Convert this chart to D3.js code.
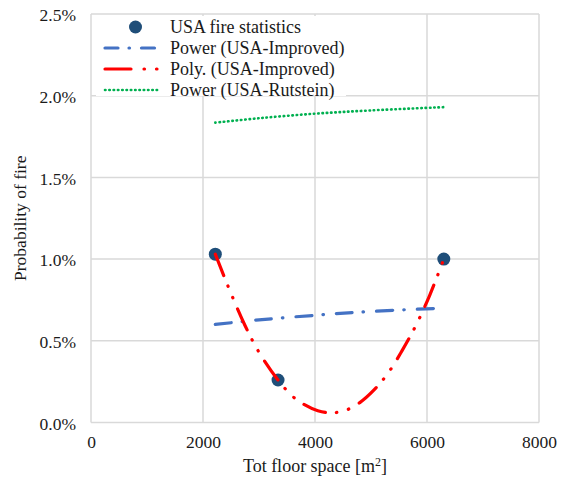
<!DOCTYPE html>
<html>
<head>
<meta charset="utf-8">
<script src="https://cdn.jsdelivr.net/npm/d3@7"></script>
<style>
  html, body { margin: 0; padding: 0; background: #fff; }
  svg { display: block; }
  text { font-family: "Liberation Serif", "Times New Roman", serif; fill: #1a1a1a; }
</style>
</head>
<body>
<svg id="chart" width="565" height="479"></svg>
<script>
// Observed fire statistics (floor space m², probability %)
const statFloor = [2220, 3340, 6300];
const statProb  = [1.03, 0.26, 1.00];

// Power trend, improved USA model
const powImpFloor = [2220, 3000, 4000, 5000, 6300];
const powImpProb  = [0.60, 0.628, 0.656, 0.680, 0.700];

// Second-order polynomial trend, improved USA model
const polyFloor = [2220, 2500, 2750, 3000, 3340, 3600, 3800, 4050, 4300, 4550, 4800, 5050, 5300, 5550, 5800, 6050, 6300];
const polyProb  = [1.03, 0.79, 0.594, 0.43, 0.26, 0.16, 0.111, 0.072, 0.059, 0.075, 0.122, 0.198, 0.30, 0.437, 0.593, 0.78, 1.00];

// Power trend, Rutstein model
const powRutFloor = [2220, 3000, 4000, 5000, 6300];
const powRutProb  = [1.835, 1.862, 1.89, 1.91, 1.93];

const xTicks = [0, 2000, 4000, 6000, 8000];
const yTicks = [0, 0.5, 1.0, 1.5, 2.0, 2.5];

const legendLabels = ["USA fire statistics", "Power (USA-Improved)", "Poly. (USA-Improved)", "Power (USA-Rutstein)"];

const margin = { left: 91, right: 26, top: 14, bottom: 56.5 };
const W = 565, H = 479;
const svg = d3.select("#chart");

const x = d3.scaleLinear().domain([0, 8000]).range([margin.left, W - margin.right]);
const y = d3.scaleLinear().domain([0, 2.5]).range([H - margin.bottom, margin.top]);

const gridColor = "#d9d9d9";

// grid lines (including the frame at the outer ticks)
svg.append("g").selectAll("line.v").data(xTicks).join("line")
  .attr("x1", d => x(d)).attr("x2", d => x(d))
  .attr("y1", y(2.5)).attr("y2", y(0))
  .attr("stroke", gridColor).attr("stroke-width", 1.5);
svg.append("g").selectAll("line.h").data(yTicks).join("line")
  .attr("x1", x(0)).attr("x2", x(8000))
  .attr("y1", d => y(d)).attr("y2", d => y(d))
  .attr("stroke", gridColor).attr("stroke-width", 1.5);

// axes as text only, built with d3 axis generators
const xAxis = svg.append("g")
  .attr("transform", `translate(0,${y(0)})`)
  .call(d3.axisBottom(x).tickValues(xTicks).tickSize(0).tickPadding(13).tickFormat(d3.format("d")));
const yAxis = svg.append("g")
  .attr("transform", `translate(${x(0)},0)`)
  .call(d3.axisLeft(y).tickValues(yTicks).tickSize(0).tickPadding(15).tickFormat(d => d.toFixed(1) + "%"));
[xAxis, yAxis].forEach(g => {
  g.select(".domain").remove();
  g.selectAll("text").style("font-family", '"Liberation Serif", serif').style("font-size", "17.5px").attr("fill", "#1a1a1a");
});
yAxis.selectAll("text").attr("dy", "0.38em");

// axis titles
const xt = svg.append("text")
  .attr("x", (x(0) + x(8000)) / 2).attr("y", 472)
  .attr("text-anchor", "middle").style("font-size", "18px");
xt.append("tspan").text("Tot floor space [m");
xt.append("tspan").text("2").attr("dy", -6).style("font-size", "12px");
xt.append("tspan").text("]").attr("dy", 6);

svg.append("text")
  .attr("transform", `translate(26,${(y(0) + y(2.5)) / 2}) rotate(-90)`)
  .attr("text-anchor", "middle").style("font-size", "17.5px")
  .text("Probability of fire");

// clip to plot area
svg.append("clipPath").attr("id", "plotClip").append("rect")
  .attr("x", x(0)).attr("y", y(2.5)).attr("width", x(8000) - x(0)).attr("height", y(0) - y(2.5));

const plot = svg.append("g").attr("clip-path", "url(#plotClip)");

const styles = {
  powImp: { color: "#4472c4", width: 3.2, dash: "16 11 0.5 13" },
  poly:   { color: "#ff0000", width: 3.2, dash: "23 11 0.5 12 0.5 12" },
  powRut: { color: "#00b050", width: 2.6, dash: "0.5 3.8" }
};

function drawLine(xs, ys, st) {
  const pts = xs.map((v, i) => [v, ys[i]]);
  plot.append("path")
    .datum(pts)
    .attr("fill", "none")
    .attr("stroke", st.color)
    .attr("stroke-width", st.width)
    .attr("stroke-dasharray", st.dash)
    .attr("stroke-linecap", "round")
    .attr("d", d3.line().x(d => x(d[0])).y(d => y(d[1])).curve(d3.curveCatmullRom));
}

drawLine(powRutFloor, powRutProb, styles.powRut);
drawLine(powImpFloor, powImpProb, styles.powImp);

// data markers
plot.append("g").selectAll("circle")
  .data(statFloor.map((v, i) => [v, statProb[i]]))
  .join("circle")
  .attr("cx", d => x(d[0])).attr("cy", d => y(d[1]))
  .attr("r", 6.5).attr("fill", "#1f4e79");

drawLine(polyFloor, polyProb, styles.poly);

// legend
const lg = svg.append("g");
lg.append("rect").attr("x", 96).attr("y", 16).attr("width", 250).attr("height", 80).attr("fill", "#fff");
const rowY = [27, 48, 69, 90];
const symX0 = 105, symX1 = 158, textX = 170;

lg.append("circle").attr("cx", 135.5).attr("cy", rowY[0]).attr("r", 6.5).attr("fill", "#1f4e79");
const legendStyles = [null, styles.powImp, styles.poly, styles.powRut];
const legendDash = [null, "13 11 0.5 12 13", "26 13 0.5 12 0.5", "0.5 3.8"];
legendStyles.forEach((st, i) => {
  if (!st) return;
  lg.append("line")
    .attr("x1", symX0).attr("x2", symX1)
    .attr("y1", rowY[i]).attr("y2", rowY[i])
    .attr("stroke", st.color).attr("stroke-width", st.width)
    .attr("stroke-dasharray", legendDash[i])
    .attr("stroke-linecap", "round");
});
lg.selectAll("text.lbl").data(legendLabels).join("text")
  .attr("class", "lbl")
  .attr("x", textX).attr("y", (d, i) => rowY[i])
  .attr("dy", "0.35em")
  .style("font-size", "18px")
  .text(d => d);
</script>
</body>
</html>
